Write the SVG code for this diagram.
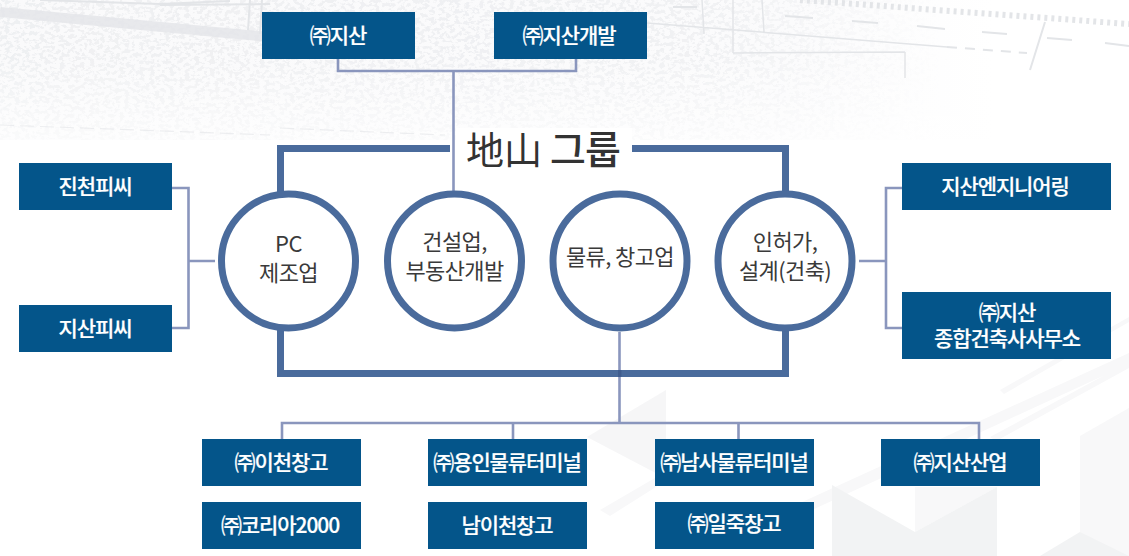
<svg xmlns="http://www.w3.org/2000/svg" width="1129" height="556" viewBox="0 0 1129 556">
<style>
text{font-family:"Noto Sans CJK KR","Noto Sans",sans-serif;text-anchor:middle}
.box{fill:#04558a}
.bt{fill:#fff;font-size:21px;font-weight:500;letter-spacing:-1.1px;stroke:#fff;stroke-width:.2px}
.ring{fill:#fff;stroke:#4a6b9c;stroke-width:7}
.ct{fill:#3a3a3a;font-size:22px;font-weight:400;letter-spacing:-.6px}
.frame{fill:none;stroke:#4a6b9c;stroke-width:7}
.con{fill:none;stroke:#8a96bd;stroke-width:2.6}
.sk{fill:none;stroke:#e3e5e8}
.p1{fill:#f2f3f4}.p2{fill:#f6f6f7}.p3{fill:#f8f8f9}
</style>
<defs>
<linearGradient id="base" x1="0" y1="0" x2="1" y2="0"><stop offset="0" stop-color="#fafafb"/><stop offset=".7" stop-color="#fbfbfc"/><stop offset=".88" stop-color="#fff"/></linearGradient>
<linearGradient id="fadeR" x1="0" y1="0" x2="1" y2="0"><stop offset="0" stop-color="#fff" stop-opacity="1"/><stop offset=".62" stop-color="#fff" stop-opacity=".9"/><stop offset=".84" stop-color="#fff" stop-opacity="0"/></linearGradient>
<linearGradient id="fadeD" x1="0" y1="0" x2="0" y2="1"><stop offset="0" stop-color="#fff" stop-opacity="0"/><stop offset=".4" stop-color="#fff" stop-opacity="0"/><stop offset="1" stop-color="#fff" stop-opacity=".7"/></linearGradient>
<filter id="grain" x="0" y="0" width="100%" height="100%"><feTurbulence type="fractalNoise" baseFrequency=".2 .28" numOctaves="3" seed="7"/><feColorMatrix values="0 0 0 0 .84 0 0 0 0 .85 0 0 0 0 .87 0 0 0 9 -4.3"/><feComposite operator="in" in2="SourceGraphic"/></filter>
</defs>
<rect width="1129" height="556" fill="#fff"/>
<g id="background">
<rect x="0" y="0" width="1129" height="140" fill="url(#base)"/>
<rect x="0" y="0" width="1129" height="140" fill="url(#fadeR)" filter="url(#grain)" opacity=".8"/>
<rect x="0" y="0" width="1129" height="140" fill="url(#fadeD)"/>
<path class="sk" stroke-width="10" opacity=".8" d="M0 12 L270 37"/>
<path class="sk" stroke-width="2" d="M40 0 L160 4 L230 1M160 5 L270 4M250 0 L248 30M262 0 L260 34"/>
<path class="sk" stroke-width="1.5" d="M647 23 L947 47M733 0 L733 53M762 0 L764 32M702 0 L704 34M905 52 L905 78M733 53 L905 52"/>
<path class="sk" stroke-width="2" stroke-dasharray="10 8" d="M947 47 L1027 53"/>
<path class="sk" stroke-width="2" d="M673 7H697M785 16 L813 18M852 21 L878 23M917 26 L945 29M982 32 L1007 34M1047 38 L1072 40M1105 43 L1129 46M1045 22 L1030 70"/>
<path class="sk" stroke-width="6" stroke-dasharray="3 4" d="M800 0 L1129 24"/>
<path class="sk" stroke-width="1.200" stroke-dasharray="14 6" opacity=".6" d="M0 125 L270 135M280 128 L445 135"/>
<path class="p3" d="M800 503 L1129 353 V364 L812 510Z M990 437 L1129 362 V368 L996 441Z M1000 390 L1129 317 V322 L1004 394Z M600 510 L720 440 L724 444 L610 516Z"/>
<path class="p2" d="M587 437 L666 390 V478 L650 470Z"/>
<path class="p3" d="M915 487 H997 L915 532Z"/>
<path class="p1" d="M832 485 L915 532 L997 487 V556 H832Z"/>
<path class="p3" d="M1080 436 L1129 408 V556 H1080Z"/>
<path class="p1" d="M1080 532 L1129 556 H1040Z"/>
<rect x="456" y="128" width="176" height="50" fill="#fff"/>
</g>
<g id="connectors">
<path class="frame" d="M450 148.500H280.500V373.500H785.500V148.500H632"/>
<path class="con" d="M338 59V71H576V59M453.500 71V191"/>
<path class="con" d="M172 188H188.500V328H172M188.500 261H215"/>
<path class="con" d="M902 188H886V328H902M859 261H886"/>
<path class="con" d="M619.500 332V423M282 439V423H979V439M513 423V439M738.500 423V439"/>
<rect x="618" y="370" width="3.400" height="7" fill="#3f5c8e"/>
</g>
<g id="title"><text x="504" y="164" font-size="38" font-weight="400" fill="#333">地山</text><text x="585" y="164" font-size="39" font-weight="500" fill="#333" letter-spacing="-1">그룹</text></g>
<g id="n1"><rect class="box" x="262" y="12" width="153" height="47"/><text class="bt" x="338" y="43">㈜지산</text></g>
<g id="n2"><rect class="box" x="494" y="12" width="153" height="47"/><text class="bt" x="569" y="43">㈜지산개발</text></g>
<g id="n3"><rect class="box" x="19" y="163" width="153" height="47"/><text class="bt" x="95" y="194">진천피씨</text></g>
<g id="n4"><rect class="box" x="19" y="305" width="153" height="47"/><text class="bt" x="95" y="336">지산피씨</text></g>
<g id="n5"><rect class="box" x="902" y="163" width="209" height="47"/><text class="bt" x="1005" y="194">지산엔지니어링</text></g>
<g id="n6"><rect class="box" x="902" y="292" width="209" height="67"/><text class="bt"><tspan x="1007" y="320">㈜지산</tspan><tspan x="1007" y="346">종합건축사사무소</tspan></text></g>
<g id="c1"><circle class="ring" cx="288.500" cy="261" r="67"/><text class="ct"><tspan x="288.500" y="252">PC</tspan><tspan x="288.500" y="281">제조업</tspan></text></g>
<g id="c2"><circle class="ring" cx="454.500" cy="261" r="67"/><text class="ct"><tspan x="454.500" y="250">건설업,</tspan><tspan x="454.500" y="279">부동산개발</tspan></text></g>
<g id="c3"><circle class="ring" cx="620" cy="261" r="67"/><text class="ct" x="620" y="265">물류, 창고업</text></g>
<g id="c4"><circle class="ring" cx="785" cy="261" r="67"/><text class="ct"><tspan x="785" y="250">인허가,</tspan><tspan x="785" y="279">설계(건축)</tspan></text></g>
<g id="b1"><rect class="box" x="202" y="439" width="159" height="47"/><text class="bt" x="281" y="470">㈜이천창고</text></g>
<g id="b2"><rect class="box" x="428" y="439" width="159" height="47"/><text class="bt" x="507" y="470">㈜용인물류터미널</text></g>
<g id="b3"><rect class="box" x="655" y="439" width="159" height="47"/><text class="bt" x="734" y="470">㈜남사물류터미널</text></g>
<g id="b4"><rect class="box" x="881" y="439" width="159" height="47"/><text class="bt" x="960" y="470">㈜지산산업</text></g>
<g id="b5"><rect class="box" x="202" y="502" width="159" height="47"/><text class="bt" x="280" y="533">㈜코리아2000</text></g>
<g id="b6"><rect class="box" x="428" y="502" width="159" height="47"/><text class="bt" x="507" y="533">남이천창고</text></g>
<g id="b7"><rect class="box" x="655" y="502" width="159" height="47"/><text class="bt" x="734" y="531">㈜일죽창고</text></g>
</svg>
